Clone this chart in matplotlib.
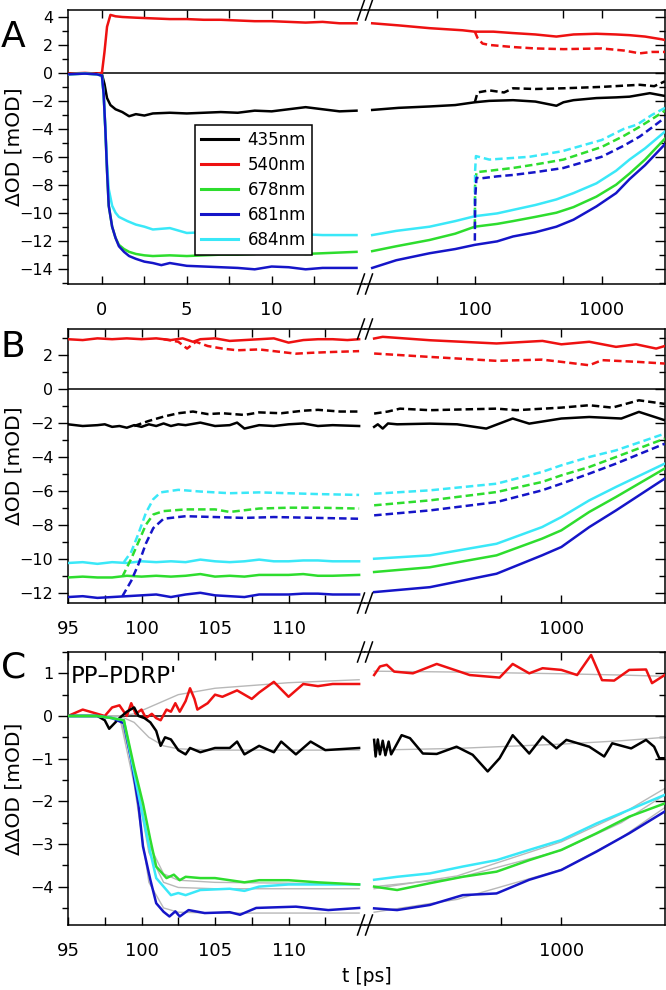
import numpy as np
import matplotlib
matplotlib.use('Agg')
import matplotlib.pyplot as plt
from matplotlib.lines import Line2D
from matplotlib.ticker import MultipleLocator, FixedLocator, FuncFormatter, NullFormatter

plt.rcParams['font.family'] = ['DejaVu Sans']

# ---------------- data ----------------
# colours per wavelength
WL = ['435nm', '540nm', '678nm', '681nm', '684nm']
COL = {'435nm': 'black', '540nm': '#ee1111', '678nm': '#2edd2e', '681nm': '#1515c8', '684nm': '#3ae8f8'}

# Panel A, left segment (linear, ps)
a_l_t_435 = [-2, -1, -0.3, 0, 0.15, 0.3, 0.5, 0.8, 1.2, 1.6, 2, 2.5, 3, 4, 5, 6, 7, 8, 9, 10, 11, 12, 13, 14, 15]
a_l_435 = [-0.05, -0.05, -0.05, -0.1, -0.8, -1.8, -2.3, -2.6, -2.8, -3.1, -2.95, -3.05, -2.9, -2.85, -2.9, -2.85,
           -2.8, -2.85, -2.7, -2.75, -2.6, -2.45, -2.6, -2.75, -2.7]
a_l_t_540 = [-2, -1, -0.3, 0, 0.15, 0.3, 0.5, 0.8, 1.2, 2, 3, 4, 5, 6, 7, 8, 9, 10, 11, 12, 13, 14, 15]
a_l_540 = [-0.05, 0.0, -0.05, 0.0, 1.5, 3.3, 4.15, 4.05, 4.0, 3.95, 3.9, 3.85, 3.85, 3.8, 3.8, 3.75, 3.7, 3.7,
           3.65, 3.6, 3.65, 3.55, 3.55]
a_l_t_678 = [-2, -1, -0.3, 0, 0.1, 0.2, 0.3, 0.4, 0.6, 0.8, 1.0, 1.3, 1.6, 2, 2.5, 3, 4, 5, 6, 7, 8, 9, 10, 11,
             12, 13, 14, 15]
a_l_678 = [-0.1, -0.05, -0.1, -0.2, -1.5, -4, -7, -9.5, -11.0, -11.8, -12.3, -12.6, -12.8, -12.95, -13.05, -13.1,
           -13.05, -13.1, -13.05, -13.0, -13.0, -12.95, -12.8, -12.85, -12.95, -12.9, -12.85, -12.8]
a_l_t_681 = [-2, -1, -0.3, 0, 0.1, 0.2, 0.3, 0.4, 0.6, 0.8, 1.0, 1.3, 1.6, 2, 2.5, 3, 3.5, 4, 5, 6, 7, 8, 9, 10,
             11, 12, 13, 14, 15]
a_l_681 = [-0.1, -0.05, -0.1, -0.2, -1.5, -4, -7, -9.5, -11.0, -11.8, -12.4, -12.8, -13.1, -13.3, -13.5, -13.6,
           -13.75, -13.6, -13.8, -13.85, -13.9, -13.95, -14.05, -13.85, -13.9, -14.05, -13.95, -13.95, -13.95]
a_l_t_684 = [-2, -1, -0.3, 0, 0.1, 0.2, 0.3, 0.4, 0.6, 0.8, 1.0, 1.5, 2, 2.5, 3, 4, 5, 6, 7, 8, 9, 10, 11, 12,
             13, 14, 15]
a_l_684 = [-0.1, -0.05, -0.1, -0.2, -1.5, -4, -6.5, -8.3, -9.5, -10.0, -10.3, -10.6, -10.85, -11.0, -11.2, -11.1,
           -11.45, -11.4, -11.5, -11.5, -11.5, -11.45, -11.5, -11.55, -11.6, -11.6, -11.6]

# Panel A, right segment (log, ps) - solid = PP, dashed = PDRP'
a_r_t_435 = [15.5, 25, 44, 70, 100, 130, 200, 300, 440, 500, 600, 910, 1300, 1660, 2400, 3160]
a_r_435 = [-2.65, -2.5, -2.4, -2.3, -2.1, -2.0, -1.95, -2.05, -2.35, -2.1, -1.95, -1.8, -1.75, -1.7, -1.45, -1.65]
a_r_t_435d = [100, 105, 130, 170, 200, 300, 500, 1000, 2000, 2600, 3160]
a_r_435d = [-2.1, -1.4, -1.25, -1.4, -1.1, -1.15, -1.1, -1.0, -0.85, -0.95, -0.6]
a_r_t_540 = [15.5, 25, 44, 80, 100, 140, 200, 300, 440, 600, 910, 1300, 1660, 2200, 3000, 3160]
a_r_540 = [3.55, 3.4, 3.2, 3.05, 2.95, 2.95, 2.85, 2.75, 2.6, 2.75, 2.8, 2.75, 2.7, 2.6, 2.4, 2.35]
a_r_t_540d = [100, 105, 115, 130, 200, 300, 500, 1000, 1500, 2000, 2500, 3160]
a_r_540d = [2.95, 2.5, 2.1, 2.0, 1.85, 1.75, 1.7, 1.75, 1.6, 1.4, 1.5, 1.5]
a_r_t_678 = [15.5, 24, 44, 70, 100, 150, 200, 300, 440, 600, 910, 1300, 1660, 2200, 3160]
a_r_678 = [-12.75, -12.4, -11.95, -11.5, -11.0, -10.8, -10.6, -10.3, -10.0, -9.6, -8.85, -8.0, -7.2, -6.2, -4.7]
a_r_t_678d = [100, 100.5, 103, 130, 200, 300, 500, 1000, 1500, 2000, 2500, 3160]
a_r_678d = [-11.0, -8.0, -7.1, -7.0, -6.8, -6.55, -6.2, -5.3, -4.5, -3.85, -3.3, -2.7]
a_r_t_681 = [15.5, 24, 44, 70, 100, 150, 200, 300, 440, 600, 910, 1300, 1660, 2200, 3160]
a_r_681 = [-13.95, -13.4, -12.9, -12.6, -12.3, -12.05, -11.7, -11.4, -11.0, -10.5, -9.55, -8.6, -7.6, -6.6, -5.1]
a_r_t_681d = [100, 100.5, 103, 110, 150, 200, 300, 500, 1000, 1500, 2000, 2500, 3160]
a_r_681d = [-12.0, -9.0, -7.5, -7.55, -7.4, -7.3, -7.1, -6.8, -6.0, -5.2, -4.55, -3.9, -3.2]
a_r_t_684 = [15.5, 24, 44, 70, 100, 150, 200, 300, 440, 600, 910, 1300, 1660, 2200, 3160]
a_r_684 = [-11.6, -11.3, -11.0, -10.6, -10.25, -10.05, -9.8, -9.45, -9.05, -8.6, -7.9, -7.0, -6.2, -5.4, -4.2]
a_r_t_684d = [100, 100.5, 102, 130, 270, 490, 1000, 1500, 1900, 2500, 3160]
a_r_684d = [-10.3, -7.0, -5.95, -6.2, -6.0, -5.6, -4.8, -4.0, -3.7, -3.0, -2.5]

# Panel B, left segment (linear, ps)
b_l_t_435 = [95, 96, 97, 97.5, 98, 98.5, 99, 99.5, 100, 100.5, 101, 101.5, 102, 102.5, 103, 104, 105, 106, 106.5,
             107, 108, 109, 110, 111, 112, 113, 114.8]
b_l_435 = [-2.1, -2.2, -2.15, -2.1, -2.25, -2.2, -2.3, -2.15, -2.25, -2.1, -2.2, -2.05, -2.2, -2.1, -2.15, -2.0,
           -2.2, -2.15, -2.0, -2.35, -2.15, -2.2, -2.1, -2.05, -2.2, -2.15, -2.2]
b_l_t_435d = [99.5, 100.5, 101.5, 102.5, 103.5, 104.5, 105.5, 107, 108, 109.5, 111, 112, 113.5, 114.8]
b_l_435d = [-2.2, -1.9, -1.65, -1.45, -1.35, -1.5, -1.45, -1.55, -1.4, -1.45, -1.3, -1.25, -1.35, -1.35]
b_l_t_540 = [95, 96, 97, 98, 99, 100, 101, 102, 102.8, 103.5, 104, 105, 106, 107, 108, 109, 110, 111, 112, 113,
             114, 114.8]
b_l_540 = [2.9, 2.85, 2.95, 2.9, 2.95, 2.9, 2.95, 2.85, 2.95, 2.75, 2.9, 2.95, 2.8, 2.85, 2.9, 2.95, 2.7, 2.85,
           2.9, 2.9, 2.85, 2.9]
b_l_t_540d = [101.5, 102.5, 103.1, 103.7, 104.5, 105.5, 106.5, 108, 109, 110.5, 111.5, 113, 114.8]
b_l_540d = [2.9, 2.75, 2.35, 2.75, 2.5, 2.35, 2.25, 2.3, 2.2, 2.05, 2.1, 2.15, 2.2]
b_l_t_flat = [95, 96, 97, 98, 99, 100, 101, 102, 103, 104, 105, 106, 107, 108, 109, 110, 111, 112, 113, 114.8]
b_l_684 = [-10.25, -10.2, -10.3, -10.2, -10.25, -10.15, -10.2, -10.15, -10.2, -10.05, -10.15, -10.2, -10.15,
           -10.05, -10.15, -10.15, -10.1, -10.1, -10.15, -10.15]
b_l_678 = [-11.1, -11.05, -11.1, -11.1, -11.0, -11.05, -11.0, -11.05, -11.0, -10.9, -11.05, -11.0, -11.05, -10.95,
           -10.95, -10.95, -10.9, -11.0, -11.0, -10.95]
b_l_681 = [-12.25, -12.2, -12.3, -12.25, -12.2, -12.15, -12.1, -12.25, -12.1, -12.0, -12.15, -12.2, -12.25, -12.1,
           -12.1, -12.1, -12.05, -12.05, -12.1, -12.1]
b_l_t_684d = [98.8, 99.3, 99.8, 100.3, 100.8, 101.3, 102.5, 104, 106, 108, 110, 112, 114.8]
b_l_684d = [-10.2, -9.6, -8.5, -7.3, -6.5, -6.1, -5.95, -6.05, -6.15, -6.1, -6.15, -6.2, -6.25]
b_l_t_678d = [98.7, 99.3, 99.8, 100.3, 100.8, 101.5, 103, 105, 106, 108, 110, 112, 114.8]
b_l_678d = [-11.05, -10.0, -9.0, -8.0, -7.4, -7.2, -7.1, -7.1, -7.25, -7.05, -7.0, -7.0, -7.05]
b_l_t_681d = [98.7, 99.3, 99.8, 100.3, 100.8, 101.5, 103, 105, 107, 109, 112, 114.8]
b_l_681d = [-12.2, -11.3, -10.3, -9.1, -8.2, -7.65, -7.5, -7.55, -7.6, -7.55, -7.6, -7.65]

# Panel B, right segment (log, ps)
b_r_t_435 = [115, 120, 127, 135, 150, 219, 300, 420, 570, 690, 1000, 1380, 2000, 2450, 3300]
b_r_435 = [-2.25, -2.1, -2.35, -2.05, -2.1, -2.06, -2.1, -2.35, -1.76, -2.06, -1.76, -1.67, -1.76, -1.37, -1.86]
b_r_t_435d = [115, 135, 155, 219, 473, 596, 1000, 1380, 1800, 2450, 3300]
b_r_435d = [-1.47, -1.35, -1.18, -1.27, -1.18, -1.27, -1.12, -0.98, -1.12, -0.69, -0.9]
b_r_t_540 = [115, 127, 219, 473, 804, 1000, 1380, 1880, 2370, 2990, 3300]
b_r_540 = [2.94, 3.04, 2.84, 2.65, 2.8, 2.6, 2.75, 2.45, 2.6, 2.35, 2.5]
b_r_t_540d = [115, 219, 473, 800, 1000, 1380, 1600, 2400, 3300]
b_r_540d = [2.06, 1.86, 1.63, 1.7, 1.57, 1.37, 1.67, 1.57, 1.47]
b_r_t = [115, 219, 473, 800, 1000, 1380, 1880, 3300]
b_r_684 = [-10.0, -9.8, -9.12, -8.14, -7.55, -6.57, -5.78, -4.41]
b_r_678 = [-10.78, -10.5, -9.8, -8.82, -8.33, -7.25, -6.37, -4.7]
b_r_681 = [-11.96, -11.67, -10.88, -9.8, -9.31, -8.14, -7.16, -5.29]
b_r_684d = [-6.18, -5.98, -5.59, -4.9, -4.51, -4.02, -3.63, -2.65]
b_r_678d = [-6.86, -6.57, -6.08, -5.49, -5.1, -4.61, -4.02, -2.94]
b_r_681d = [-7.45, -7.16, -6.67, -5.98, -5.59, -5.0, -4.41, -3.24]

# Panel C (PP - PDRP'), left segment
c_l_t_540 = [95, 96, 97, 97.5, 98, 98.5, 99, 99.3, 99.6, 100, 100.3, 100.7, 101, 101.3, 101.7, 102, 102.3, 102.6,
             103, 103.3, 103.6, 103.8, 104.5, 105, 105.5, 106.5, 107.5, 108, 109, 110, 111, 112, 113, 114.8]
c_l_540 = [0.0, 0.15, 0.05, 0.0, 0.2, 0.25, 0.0, 0.3, 0.05, 0.15, -0.05, 0.05, -0.05, -0.1, 0.15, 0.1, 0.3, 0.1,
           0.35, 0.65, 0.4, 0.15, 0.3, 0.5, 0.45, 0.6, 0.4, 0.55, 0.8, 0.45, 0.75, 0.7, 0.75, 0.75]
c_l_t_435 = [95, 97, 97.5, 97.8, 98.5, 99, 99.5, 99.8, 100.2, 100.6, 101, 101.3, 101.6, 102, 102.5, 103, 103.3,
             104, 105, 106, 106.5, 107, 108, 109, 109.5, 110.5, 111.5, 112.5, 114.8]
c_l_435 = [0.0, 0.0, -0.1, -0.3, -0.05, 0.1, 0.2, 0.0, -0.05, -0.15, -0.35, -0.7, -0.5, -0.55, -0.8, -0.9, -0.75,
           -0.85, -0.75, -0.75, -0.6, -0.9, -0.7, -0.85, -0.6, -0.9, -0.6, -0.8, -0.75]
c_l_t_678 = [95, 97, 98, 98.8, 99.5, 100.1, 100.6, 101.0, 101.7, 102.2, 102.6, 103, 104, 105, 106, 107, 108, 110,
             112, 114.8]
c_l_678 = [0.0, 0.0, -0.05, -0.1, -1.2, -2.05, -2.9, -3.53, -3.8, -3.72, -3.85, -3.77, -3.8, -3.8, -3.85, -3.9,
           -3.85, -3.85, -3.9, -3.95]
c_l_t_684 = [95, 97, 98, 98.8, 99.5, 100.1, 100.6, 101.0, 101.7, 102.0, 102.5, 103, 104, 106, 107, 108, 110, 112,
             114.8]
c_l_684 = [0.0, 0.0, -0.05, -0.1, -1.34, -2.36, -3.2, -3.8, -4.08, -4.2, -4.15, -4.2, -4.08, -4.05, -4.1, -4.0,
           -3.95, -3.95, -3.95]
c_l_t_681 = [95, 97, 98, 98.8, 99.3, 99.8, 100.1, 100.6, 101.0, 101.5, 101.9, 102.3, 102.6, 103.2, 104.3, 106,
             106.7, 107.8, 110.5, 112.7, 114.8]
c_l_681 = [0.0, 0.0, -0.05, -0.17, -1.03, -2.1, -3.06, -3.84, -4.39, -4.59, -4.7, -4.58, -4.7, -4.55, -4.62,
           -4.6, -4.66, -4.5, -4.47, -4.55, -4.5]

# Panel C, right segment
c_r_t_540 = [115, 123, 133, 145, 180, 237, 347, 490, 570, 690, 805, 1000, 1200, 1410, 1600, 1840, 2190, 2660,
             2850, 3300]
c_r_540 = [0.96, 1.16, 1.2, 1.04, 1.0, 1.22, 0.96, 0.9, 1.22, 1.0, 1.12, 1.08, 0.96, 1.43, 0.84, 0.83, 1.08,
           1.09, 0.77, 0.96]
c_r_t_435 = [115, 117, 120, 123, 127, 131, 136, 140, 158, 174, 202, 237, 298, 359, 427, 490, 570, 690, 805, 945,
             1060, 1380, 1640, 1800, 2240, 2660, 2920, 3100, 3300]
c_r_435 = [-0.56, -0.95, -0.55, -0.9, -0.58, -0.92, -0.6, -0.9, -0.45, -0.52, -0.88, -0.89, -0.72, -0.91,
           -1.3, -0.99, -0.45, -0.88, -0.48, -0.76, -0.56, -0.72, -0.95, -0.64, -0.76, -0.56, -0.72, -0.99, -0.99]
c_r_t = [115, 150, 219, 320, 473, 690, 1000, 1500, 2190, 3300]
c_r_684 = [-3.84, -3.77, -3.69, -3.53, -3.38, -3.14, -2.91, -2.52, -2.2, -1.85]
c_r_678 = [-4.0, -4.08, -3.92, -3.77, -3.65, -3.38, -3.14, -2.75, -2.36, -2.05]
c_r_681 = [-4.51, -4.55, -4.43, -4.2, -4.16, -3.84, -3.61, -3.18, -2.75, -2.24]

# Panel C, fitted curves (grey)
c_fit_l_t = [95, 98.5, 99.5, 100.5, 101.5, 102.5, 105, 110, 114.8]
c_fit_l_540 = [0.0, 0.0, 0.05, 0.2, 0.35, 0.5, 0.65, 0.78, 0.85]
c_fit_l_435 = [0.0, 0.0, -0.15, -0.5, -0.7, -0.77, -0.8, -0.8, -0.8]
c_fit_l_678 = [0.0, 0.0, -1.2, -3.0, -3.7, -3.85, -3.9, -3.92, -3.95]
c_fit_l_684 = [0.0, 0.0, -1.3, -3.2, -3.9, -4.02, -4.05, -4.05, -4.05]
c_fit_l_681 = [0.0, 0.0, -1.6, -3.9, -4.5, -4.6, -4.62, -4.62, -4.62]
c_fit_r_t = [115, 300, 1000, 2000, 3300]
c_fit_r_540 = [1.05, 1.03, 0.99, 0.96, 0.93]
c_fit_r_435 = [-0.8, -0.76, -0.66, -0.58, -0.5]
c_fit_r_678 = [-4.0, -3.8, -3.15, -2.5, -1.85]
c_fit_r_684 = [-4.05, -3.75, -2.95, -2.3, -1.7]
c_fit_r_681 = [-4.6, -4.3, -3.6, -2.85, -2.15]

# ---------------- layout helpers ----------------
FW, FH = 666, 990
X0, XB, X1 = 68, 365, 665
LW = 1.8
DASH = (0, (3.0, 1.6))

fig = plt.figure(figsize=(FW / 100, FH / 100), dpi=100)


def make_pair(top, bottom, xlim_l, xlim_r, ylim, ymaj, ymin):
    b = 1 - bottom / FH
    h = (bottom - top) / FH
    axl = fig.add_axes([X0 / FW, b, (XB - X0) / FW, h])
    axr = fig.add_axes([XB / FW, b, (X1 - XB) / FW, h], sharey=axl)
    axr.set_xscale('log')
    axl.set_xlim(*xlim_l)
    axr.set_xlim(*xlim_r)
    axl.set_ylim(*ylim)
    axl.spines['right'].set_visible(False)
    axr.spines['left'].set_visible(False)
    for ax in (axl, axr):
        for s in ax.spines.values():
            s.set_linewidth(1.1)
        ax.axhline(0, color='black', lw=1.1, zorder=1)
        ax.tick_params(axis='x', which='both', direction='in', top=True, bottom=True,
                       labelsize=13, pad=12, width=1, length=6)
    axl.yaxis.set_major_locator(MultipleLocator(ymaj))
    axl.yaxis.set_minor_locator(MultipleLocator(ymin))
    axl.tick_params(axis='y', which='both', direction='out', left=True, right=False,
                    labelsize=11.5, width=1)
    axl.tick_params(axis='y', which='major', length=7)
    axl.tick_params(axis='y', which='minor', length=4)
    axr.tick_params(axis='y', which='both', direction='in', left=False, right=True,
                    labelleft=False, labelright=False, width=1)
    axr.tick_params(axis='y', which='major', length=7)
    axr.tick_params(axis='y', which='minor', length=4)
    axr.xaxis.set_major_locator(FixedLocator([100, 1000]))
    axr.xaxis.set_major_formatter(FuncFormatter(lambda v, p: f'{v:g}'))
    axr.xaxis.set_minor_locator(FixedLocator([50, 500, 5000]))
    axr.xaxis.set_minor_formatter(NullFormatter())
    # break marks on top and bottom spines
    for py in (top, bottom):
        for xc in (XB - 4, XB + 4):
            fig.add_artist(Line2D([(xc - 3.5) / FW, (xc + 3.5) / FW],
                                  [1 - (py + 10) / FH, 1 - (py - 10) / FH],
                                  color='black', lw=1.1))
    return axl, axr


def line(ax, t, v, wl, dashed=False, z=3):
    return ax.plot(t, v, color=COL[wl], lw=LW, ls=DASH if dashed else '-', zorder=z,
                   solid_joinstyle='round')[0]


def fit(ax, t, v):
    ax.plot(t, v, color='#b8b8b8', lw=1.0, zorder=2)


# ---------------- Panel A ----------------
axl, axr = make_pair(10, 284, (-2, 15.5), (13.6, 3162), (-15.1, 4.5), 2, 1)
axl.xaxis.set_major_locator(FixedLocator([0, 5, 10]))
axl.xaxis.set_minor_locator(FixedLocator([2.5, 7.5, 12.5]))
line(axl, a_l_t_435, a_l_435, '435nm')
line(axl, a_l_t_540, a_l_540, '540nm')
line(axl, a_l_t_678, a_l_678, '678nm')
line(axl, a_l_t_684, a_l_684, '684nm')
line(axl, a_l_t_681, a_l_681, '681nm')
line(axr, a_r_t_435, a_r_435, '435nm')
line(axr, a_r_t_435d, a_r_435d, '435nm', dashed=True)
line(axr, a_r_t_540, a_r_540, '540nm')
line(axr, a_r_t_540d, a_r_540d, '540nm', dashed=True)
line(axr, a_r_t_678, a_r_678, '678nm')
line(axr, a_r_t_678d, a_r_678d, '678nm', dashed=True)
line(axr, a_r_t_684, a_r_684, '684nm')
line(axr, a_r_t_684d, a_r_684d, '684nm', dashed=True)
line(axr, a_r_t_681, a_r_681, '681nm')
line(axr, a_r_t_681d, a_r_681d, '681nm', dashed=True)
axl.set_ylabel('ΔOD [mOD]', fontsize=14.5)
axl.yaxis.set_label_coords(-0.15, 0.5)
leg_h = [Line2D([], [], color=COL[w], lw=2.2) for w in WL]
leg = axl.legend(leg_h, WL, loc='upper left', bbox_to_anchor=(0.428, 0.58), borderaxespad=0,
                 fontsize=12, handlelength=2.2, handletextpad=0.6, labelspacing=0.42,
                 borderpad=0.35, fancybox=False, framealpha=1, edgecolor='black')
leg.get_frame().set_linewidth(1.1)

# ---------------- Panel B ----------------
axl, axr = make_pair(329, 603, (95, 115.2), (103.5, 3311), (-12.6, 3.5), 2, 1)
axl.xaxis.set_major_locator(FixedLocator([95, 100, 105, 110]))
axl.xaxis.set_minor_locator(FixedLocator([97.5, 102.5, 107.5, 112.5]))
line(axl, b_l_t_435, b_l_435, '435nm')
line(axl, b_l_t_435d, b_l_435d, '435nm', dashed=True)
line(axl, b_l_t_540, b_l_540, '540nm')
line(axl, b_l_t_540d, b_l_540d, '540nm', dashed=True)
line(axl, b_l_t_flat, b_l_684, '684nm')
line(axl, b_l_t_flat, b_l_678, '678nm')
line(axl, b_l_t_flat, b_l_681, '681nm')
line(axl, b_l_t_684d, b_l_684d, '684nm', dashed=True)
line(axl, b_l_t_678d, b_l_678d, '678nm', dashed=True)
line(axl, b_l_t_681d, b_l_681d, '681nm', dashed=True)
line(axr, b_r_t_435, b_r_435, '435nm')
line(axr, b_r_t_435d, b_r_435d, '435nm', dashed=True)
line(axr, b_r_t_540, b_r_540, '540nm')
line(axr, b_r_t_540d, b_r_540d, '540nm', dashed=True)
line(axr, b_r_t, b_r_684, '684nm')
line(axr, b_r_t, b_r_678, '678nm')
line(axr, b_r_t, b_r_681, '681nm')
line(axr, b_r_t, b_r_684d, '684nm', dashed=True)
line(axr, b_r_t, b_r_678d, '678nm', dashed=True)
line(axr, b_r_t, b_r_681d, '681nm', dashed=True)
axl.set_ylabel('ΔOD [mOD]', fontsize=14.5)
axl.yaxis.set_label_coords(-0.15, 0.5)

# ---------------- Panel C ----------------
axl, axr = make_pair(652, 925, (95, 115.2), (103.5, 3311), (-4.9, 1.5), 1, 0.5)
axl.xaxis.set_major_locator(FixedLocator([95, 100, 105, 110]))
axl.xaxis.set_minor_locator(FixedLocator([97.5, 102.5, 107.5, 112.5]))
for fl, fr in ((c_fit_l_540, c_fit_r_540), (c_fit_l_435, c_fit_r_435), (c_fit_l_678, c_fit_r_678),
               (c_fit_l_684, c_fit_r_684), (c_fit_l_681, c_fit_r_681)):
    fit(axl, c_fit_l_t, fl)
    fit(axr, c_fit_r_t, fr)
line(axl, c_l_t_540, c_l_540, '540nm')
line(axl, c_l_t_435, c_l_435, '435nm')
line(axl, c_l_t_681, c_l_681, '681nm')
line(axl, c_l_t_684, c_l_684, '684nm')
line(axl, c_l_t_678, c_l_678, '678nm')
line(axr, c_r_t_540, c_r_540, '540nm')
line(axr, c_r_t_435, c_r_435, '435nm')
line(axr, c_r_t, c_r_681, '681nm')
line(axr, c_r_t, c_r_678, '678nm')
line(axr, c_r_t, c_r_684, '684nm')
axl.set_ylabel('ΔΔOD [mOD]', fontsize=14.5)
axl.yaxis.set_label_coords(-0.15, 0.5)
axl.text(0.008, 0.886, "PP\u2013PDRP'", transform=axl.transAxes, fontsize=16.5, va='baseline')

# panel letters and common x label
for letter, base in (('A', 47), ('B', 357), ('C', 678)):
    fig.text(1 / FW, 1 - base / FH, letter, fontsize=26, va='baseline', ha='left')
fig.text(367 / FW, 1 - 977 / FH, 't [ps]', fontsize=13.5, ha='center', va='center')

fig.savefig('out.png', dpi=100)
